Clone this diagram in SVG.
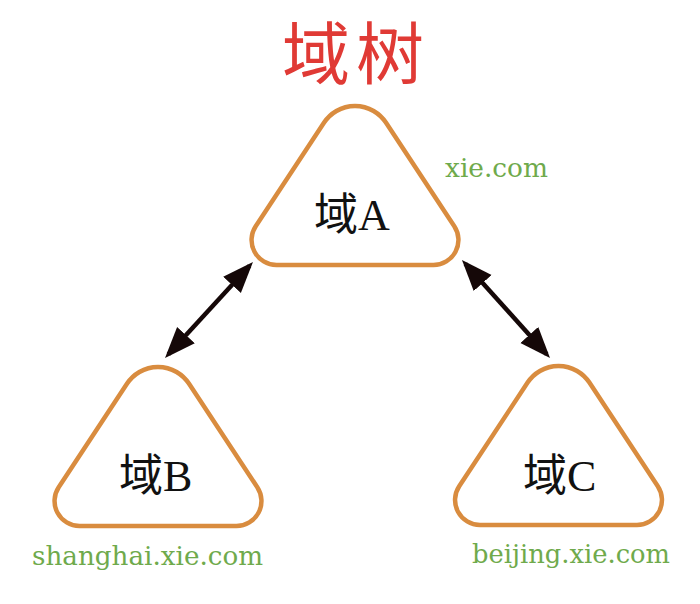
<svg xmlns="http://www.w3.org/2000/svg" xmlns:xlink="http://www.w3.org/1999/xlink" width="700" height="604" viewBox="0 0 700 604">
<style>
.tri{fill:#fff;stroke:#D98C3F;stroke-width:4.5}
.lbl{font-family:"Liberation Serif","Noto Sans CJK SC",serif;font-size:44px;fill:#111}
.dom{font-family:"DejaVu Serif","Liberation Serif",serif;font-size:26px;fill:#6FAA4C}
.title{font-family:"Noto Sans CJK SC",sans-serif;font-size:68px;fill:#E03A35}
.link{stroke:#150808;stroke-width:4.5;fill:none;marker-start:url(#ah);marker-end:url(#ah)}
</style>
<defs>
<path id="tri" d="M-78.5,0 L78.5,0 A25,25 0 0 0 99.3,-38.8 L30.9,-142.4 A37,37 0 0 0 -30.9,-142.4 L-99.3,-38.8 A25,25 0 0 0 -78.5,0 Z"/>
<marker id="ah" markerUnits="userSpaceOnUse" markerWidth="34" markerHeight="26" refX="26" refY="12" orient="auto-start-reverse">
<path d="M0,0 L31,12 L0,24 Z" fill="#150808"/>
</marker>
</defs>
<rect width="700" height="604" fill="#fff"/>
<text class="title" x="356" y="79" text-anchor="middle" letter-spacing="6">域树</text>
<g id="connectors">
<line class="link" x1="249.6" y1="265.7" x2="168.4" y2="354.3"/>
<line class="link" x1="465.3" y1="263.7" x2="546.7" y2="354.3"/>
</g>
<g id="node-A">
<use xlink:href="#tri" class="tri" transform="translate(355,265)"/>
<text class="lbl" x="314" y="230">域A</text>
<text class="dom" x="445" y="177" textLength="103" lengthAdjust="spacingAndGlyphs">xie.com</text>
</g>
<g id="node-B">
<use xlink:href="#tri" class="tri" transform="translate(158,526)"/>
<text class="lbl" x="119" y="491">域B</text>
<text class="dom" x="32" y="565" textLength="231" lengthAdjust="spacingAndGlyphs">shanghai.xie.com</text>
</g>
<g id="node-C">
<use xlink:href="#tri" class="tri" transform="translate(558.5,525)"/>
<text class="lbl" x="523" y="491">域C</text>
<text class="dom" x="472" y="563" textLength="198" lengthAdjust="spacingAndGlyphs">beijing.xie.com</text>
</g>
</svg>
